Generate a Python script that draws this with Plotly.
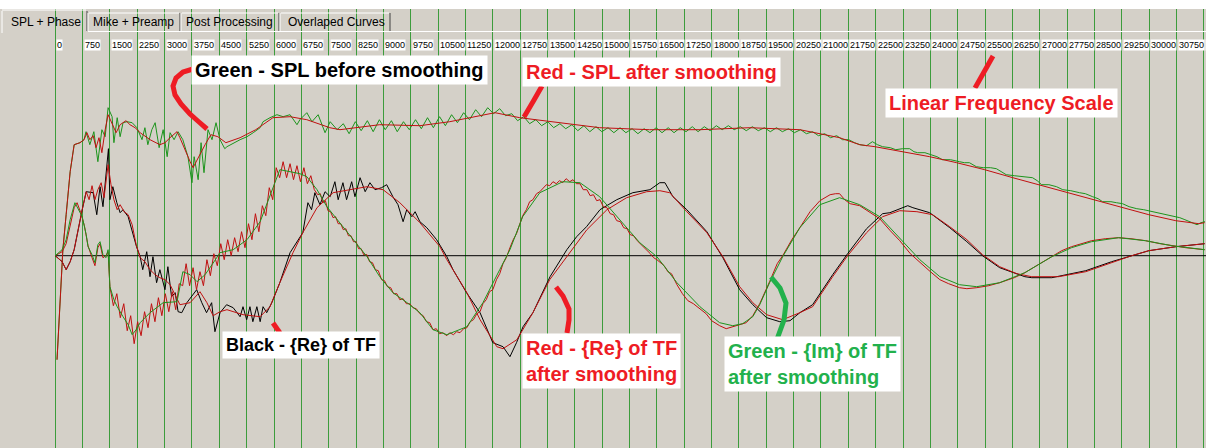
import plotly.graph_objects as go

W, H = 1206, 448
BG = "#d4d0c8"

# Frequency axis: a gridline and a label every 750 Hz
tick_hz = list(range(0, 31501, 750))
tick_labels = [str(v) for v in tick_hz]

# Measured curves as (frequency in Hz, level) pairs
spl_raw = [
    (50, -104), (130, -44), (210, 6), (300, 41), (410, 84), (520, 111), (680, 113), (790, 116),
    (845, 124), (950, 111), (1060, 124), (1170, 94), (1280, 126), (1370, 119), (1450, 148),
    (1560, 139), (1610, 113), (1700, 138), (1780, 119), (1860, 133), (1970, 134), (2110, 133),
    (2240, 128), (2380, 116), (2460, 128), (2540, 111), (2650, 126), (2740, 133), (2850, 108),
    (2960, 126), (3070, 99), (3150, 123), (3260, 116), (3370, 124), (3500, 116), (3640, 99),
    (3750, 73), (3810, 99), (3920, 76), (4000, 113), (4080, 83), (4190, 126), (4300, 116),
    (4410, 133), (4520, 116), (4650, 107), (4710, 109), (5070, 116), (5260, 119), (5430, 123),
    (5620, 128), (5700, 134), (5890, 138), (6080, 141), (6250, 139), (6440, 141), (6630, 131),
    (6710, 136), (6900, 143), (7040, 134), (7210, 141), (7400, 123), (7540, 134), (7730, 126),
    (7900, 132), (8060, 122), (8230, 134), (8390, 125), (8560, 135), (8720, 124), (8890, 136),
    (9050, 126), (9220, 135), (9380, 124), (9550, 134), (9710, 126), (9880, 136), (10040, 127),
    (10210, 138), (10370, 128), (10540, 139), (10700, 130), (10870, 141), (11030, 133),
    (11200, 143), (11360, 136), (11530, 146), (11690, 139), (11860, 148), (12020, 142),
    (12190, 147), (12350, 140), (12520, 142), (12680, 135), (12850, 139), (13010, 132),
    (13180, 136), (13340, 130), (13510, 134), (13670, 128), (13840, 132), (14000, 127),
    (14170, 131), (14330, 125), (14500, 130), (14660, 124), (14830, 129), (14990, 124),
    (15160, 128), (15320, 123), (15490, 128), (15650, 123), (15820, 127), (15980, 122),
    (16150, 127), (16310, 123), (16480, 128), (16640, 123), (16810, 128), (16970, 123),
    (17140, 128), (17300, 124), (17470, 129), (17630, 124), (17800, 129), (17960, 125),
    (18130, 130), (18290, 126), (18460, 130), (18620, 126), (18790, 129), (18950, 125),
    (19120, 129), (19280, 125), (19450, 128), (19610, 124), (19780, 128), (19940, 124),
    (20110, 127), (20270, 123), (20440, 126), (20600, 122), (20770, 124), (20930, 120),
    (21100, 122), (21260, 118), (21430, 120), (21590, 116), (21760, 116), (21920, 113),
    (22070, 111), (22250, 110), (22410, 114), (22550, 111), (22690, 109), (22900, 108),
    (23050, 106), (23240, 107), (23430, 107), (23550, 104), (23650, 103), (23850, 103),
    (24030, 101), (24180, 99), (24330, 96), (24550, 96), (24800, 94), (24930, 93), (25070, 93),
    (25260, 89), (25450, 88), (25650, 88), (25810, 87), (25950, 84), (26080, 81), (26300, 80),
    (26520, 79), (26800, 78), (26930, 75), (27050, 71), (27250, 71), (27460, 69), (27630, 66),
    (27850, 65), (28090, 63), (28250, 62), (28450, 59), (28600, 57), (28720, 54), (28950, 54),
    (29100, 53), (29270, 52), (29450, 49), (29660, 47), (29850, 46), (30100, 44), (30300, 42),
    (30490, 41), (30650, 39), (30840, 38), (30980, 36), (31120, 34), (31310, 31), (31420, 33),
    (31530, 34),
]

spl_smooth = [
    (50, -104), (130, -44), (210, 6), (300, 41), (410, 84), (520, 111), (680, 113), (790, 116),
    (870, 123), (950, 116), (1040, 120), (1120, 108), (1200, 118), (1280, 103), (1370, 126),
    (1450, 141), (1560, 131), (1670, 123), (1780, 131), (1940, 135), (2050, 131), (2190, 128),
    (2330, 123), (2510, 118), (2600, 116), (2870, 111), (3010, 113), (3150, 118), (3340, 124),
    (3420, 118), (3560, 105), (3700, 94), (3780, 88), (3890, 96), (3970, 101), (4110, 111),
    (4270, 121), (4460, 119), (4680, 113), (5070, 118), (5500, 126), (5970, 138), (6440, 139),
    (6900, 136), (7530, 128), (7810, 126), (8900, 131), (10000, 130), (10820, 134), (11370, 138),
    (12060, 143), (12740, 138), (13560, 134), (14930, 128), (16300, 126), (17680, 126),
    (19050, 128), (20420, 126), (21510, 118), (22060, 111), (22480, 109), (23240, 104),
    (23980, 99), (24720, 93), (25490, 86), (26260, 78), (26970, 71), (27710, 64), (28480, 56),
    (29220, 49), (29990, 41), (30730, 35), (31360, 32), (31520, 33),
]

re_raw = [
    (0, 0), (190, -6), (300, -14), (410, -6), (520, 6), (630, 28), (740, 46), (850, 64),
    (1040, 63), (1140, 41), (1230, 69), (1310, 49), (1460, 107), (1500, 56), (1580, 69),
    (1690, 53), (1780, 43), (1860, 46), (2000, 39), (2230, 9), (2330, -1), (2400, -14),
    (2510, 4), (2600, -21), (2680, -1), (2780, -27), (2870, -14), (3010, -34), (3090, -11),
    (3190, -41), (3290, -37), (3370, -56), (3470, -57), (3610, -47), (3880, -34), (4020, -47),
    (4150, -57), (4290, -47), (4380, -76), (4520, -57), (4700, -49), (4880, -52), (5070, -61),
    (5150, -51), (5250, -64), (5340, -51), (5420, -66), (5530, -51), (5620, -66), (5700, -51),
    (5800, -57), (5940, -47), (6160, -27), (6440, 3), (6790, 23), (6930, 53), (7030, 46),
    (7120, 63), (7260, 51), (7400, 64), (7540, 59), (7670, 74), (7760, 56), (7890, 73),
    (7990, 56), (8130, 74), (8220, 59), (8360, 78), (8500, 64), (8630, 73), (8770, 66),
    (8950, 68), (9090, 71), (9260, 59), (9400, 51), (9540, 34), (9640, 46), (9780, 39),
    (9870, 44), (10000, 34), (10190, 28), (10460, 16), (10740, -1), (10910, -14), (11280, -37),
    (11650, -57), (12000, -87), (12280, -91), (12470, -101), (12650, -87), (12830, -71),
    (13100, -57), (13570, -21), (14030, 6), (14300, 19), (14570, 29), (14940, 46), (15400, 56),
    (15840, 63), (16310, 66), (16580, 73), (16720, 73), (16940, 59), (17320, 46), (17870, 24),
    (18310, -2), (18770, -34), (19130, -49), (19510, -62), (19870, -66), (20150, -65),
    (20420, -57), (20770, -49), (21320, -19), (21730, 2), (22250, 27), (22690, 42), (22890, 43),
    (23160, 47), (23380, 50), (23520, 48), (23980, 43), (24530, 28), (25000, 14), (25430, 0),
    (25900, -12), (26590, -21), (26780, -22), (27330, -22), (27600, -20), (28260, -15),
    (28970, -6), (29520, 0), (29990, 5), (30730, 9), (31520, 12),
]

re_smooth = [
    (0, 0), (190, -6), (300, -14), (410, -6), (520, 6), (630, 28), (740, 46), (850, 64),
    (930, 56), (1010, 70), (1090, 56), (1170, 66), (1260, 73), (1340, 58), (1450, 91),
    (1530, 71), (1610, 56), (1700, 46), (1780, 51), (1890, 44), (2000, 41), (2110, 31),
    (2220, 11), (2330, -2), (2460, -6), (2600, -14), (2740, -19), (2870, -22), (3010, -24),
    (3150, -29), (3290, -39), (3420, -49), (3700, -47), (3970, -36), (4160, -47), (4330, -60),
    (4520, -56), (4710, -54), (5150, -59), (5620, -61), (5890, -51), (6160, -27), (6520, 3),
    (6790, 23), (7180, 48), (7620, 63), (8080, 66), (8550, 69), (8990, 66), (9450, 53),
    (9920, 36), (10000, 33), (10550, 9), (10740, -4), (11290, -37), (11650, -64),
    (12110, -91), (12280, -93), (12660, -84), (13100, -57), (13560, -24), (14110, 3),
    (14580, 26), (15130, 46), (15670, 58), (16220, 64), (16580, 65), (16850, 63), (17320, 44),
    (17870, 23), (18310, -1), (18770, -31), (19130, -47), (19510, -59), (19950, -64),
    (20420, -57), (20770, -51), (21320, -21), (21730, 0), (22250, 23), (22690, 39),
    (23160, 45), (23630, 44), (24060, 41), (24530, 29), (25000, 16), (25430, 1), (25900, -11),
    (26370, -18), (26780, -21), (27520, -21), (28260, -16), (28970, -7), (29520, 0),
    (29990, 5), (30730, 9), (31520, 12),
]

im_raw = [
    (0, 0), (190, 4), (300, 12), (410, 30), (520, 48), (600, 53), (700, 43), (800, 30),
    (900, 10), (1010, -2), (1090, -10), (1170, 8), (1230, 12), (1310, -2), (1390, 0),
    (1450, 4), (1500, -31), (1595, -50), (1690, -38), (1785, -62), (1880, -48), (1975, -75),
    (2070, -60), (2165, -88), (2260, -66), (2355, -80), (2450, -56), (2545, -72), (2640, -48),
    (2735, -66), (2830, -42), (2925, -60), (3020, -38), (3115, -56), (3210, -36), (3305, -54),
    (3400, -28), (3495, -30), (3590, -8), (3685, -30), (3780, -12), (3875, -34), (3970, -16),
    (4065, -30), (4160, -4), (4255, -20), (4350, 2), (4445, -10), (4540, 12), (4635, -4),
    (4730, 16), (4825, 0), (4920, 18), (5015, 4), (5110, 24), (5205, 8), (5300, 32),
    (5395, 16), (5490, 42), (5585, 24), (5680, 50), (5775, 40), (5870, 68), (5965, 56),
    (6060, 88), (6155, 78), (6250, 94), (6345, 78), (6440, 92), (6535, 76), (6630, 90),
    (6725, 74), (6820, 88), (6915, 72), (7010, 80), (7105, 66), (7200, 61), (7270, 62),
    (7340, 53), (7410, 55), (7480, 45), (7550, 44), (7620, 38), (7690, 39), (7760, 32),
    (7830, 32), (7900, 26), (7970, 27), (8040, 20), (8110, 20), (8180, 14), (8250, 14),
    (8320, 7), (8390, 7), (8460, 1), (8550, 1), (8620, -6), (8700, -7), (8780, -14),
    (8860, -15), (8950, -24), (9030, -25), (9110, -31), (9200, -32), (9280, -38), (9370, -38),
    (9450, -44), (9540, -43), (9630, -48), (9720, -48), (9810, -52), (9900, -53), (10000, -58),
    (10090, -60), (10180, -66), (10270, -67), (10360, -74), (10450, -73), (10540, -78),
    (10630, -77), (10740, -80), (10820, -77), (10920, -79), (11010, -76), (11100, -77),
    (11200, -73), (11290, -72), (11380, -66), (11470, -64), (11560, -58), (11650, -56),
    (11730, -48), (11820, -44), (11910, -36), (12000, -34), (12100, -24), (12190, -18),
    (12280, -8), (12370, -2), (12470, 8), (12560, 16), (12650, 22), (12740, 32), (12820, 40),
    (12920, 46), (13010, 54), (13100, 56), (13200, 62), (13290, 64), (13380, 68), (13470, 71),
    (13560, 70), (13650, 74), (13740, 72), (13830, 75), (13920, 73), (14010, 77), (14110, 74),
    (14200, 76), (14290, 72), (14390, 72), (14480, 66), (14580, 66), (14670, 60), (14760, 61),
    (14850, 55), (14940, 56), (15030, 49), (15130, 48), (15220, 42), (15310, 41), (15400, 35),
    (15500, 34), (15590, 28), (15680, 27), (15770, 21), (15860, 20), (15960, 15), (16050, 12),
    (16140, 8), (16230, 5), (16320, 2), (16410, -2), (16500, -4), (16700, -10), (16800, -16),
    (16900, -18), (17050, -29), (17200, -38), (17350, -45), (17500, -48), (17680, -53),
    (17850, -58), (18000, -65), (18220, -70), (18400, -73), (18580, -71), (18750, -69),
    (18950, -67), (19130, -60), (19320, -48), (19590, -26), (19800, -8), (19950, 0),
    (20200, 16), (20420, 28), (20700, 44), (20970, 55), (21250, 61), (21400, 62), (21510, 62),
    (21650, 56), (21800, 52), (22060, 50), (22300, 44), (22610, 37), (22900, 25), (23160, 15),
    (23450, 2), (23710, -7), (24000, -16), (24260, -24), (24500, -28), (24800, -32),
    (25000, -33), (25270, -32), (25600, -30), (25900, -27), (26300, -22), (26590, -17),
    (27000, -8), (27330, -1), (27600, 5), (27870, 9), (28200, 13), (28420, 15), (28800, 17),
    (29160, 18), (29500, 17), (29900, 15), (30300, 12), (30620, 10), (31000, 8), (31520, 6),
]

im_smooth = [
    (0, 0), (190, 6), (300, 16), (410, 36), (540, 53), (650, 46), (740, 39), (850, 21),
    (900, 9), (1010, 1), (1090, -7), (1170, 11), (1230, 14), (1310, 1), (1390, -2),
    (1450, 6), (1500, -31), (1610, -44), (1700, -51), (1860, -61), (2000, -69), (2110, -79),
    (2220, -74), (2330, -67), (2600, -57), (2960, -47), (3340, -46), (3500, -16), (3700, -19),
    (3890, -26), (4110, -19), (4300, -9), (4520, 3), (4880, 6), (5260, 16), (5620, 34),
    (5890, 59), (6160, 86), (6440, 84), (6710, 82), (6900, 79), (7180, 66), (7450, 49),
    (7810, 33), (8170, 16), (8550, -1), (8900, -21), (9260, -37), (9650, -47), (10000, -57),
    (10360, -74), (10740, -79), (11290, -71), (11730, -47), (12190, -14), (12470, 6),
    (12820, 39), (13290, 63), (13920, 74), (14390, 73), (14930, 59), (15400, 39), (16030, 13),
    (16500, -1), (17050, -27), (17680, -51), (18220, -67), (18580, -70), (18850, -68),
    (19130, -61), (19320, -49), (19590, -27), (19950, -1), (20420, 28), (20970, 51),
    (21510, 58), (22060, 51), (22610, 39), (23160, 18), (23710, -4), (24260, -21),
    (24800, -29), (25270, -31), (25900, -27), (26590, -17), (27330, -1), (27870, 8),
    (28420, 14), (29160, 18), (29900, 15), (30620, 10), (31520, 6),
]

# name, data, colour (drawing order: later traces sit on top)
series = [
    ("SPL before smoothing", spl_raw, "#1c941c"),
    ("SPL after smoothing", spl_smooth, "#c01010"),
    ("Re of TF", re_raw, "#000000"),
    ("Im of TF", im_raw, "#c01010"),
    ("Re of TF after smoothing", re_smooth, "#c01010"),
    ("Im of TF after smoothing", im_smooth, "#1c941c"),
]

X_RANGE = [-1514, 31558]
Y_RANGE = [-192.3, 255.7]

fig = go.Figure()
for name, pts, color in series:
    fig.add_trace(go.Scatter(
        x=[p[0] for p in pts], y=[p[1] for p in pts], name=name, mode="lines",
        line=dict(color=color, width=1), hoverinfo="skip",
    ))


def px(x, y):
    """Screen pixel -> paper coordinates for the window decorations."""
    return x / W, 1 - y / H


shapes = []


def seg(x0, y0, x1, y1, color, width=1, layer="above"):
    a, b = px(x0, y0)
    c, d = px(x1, y1)
    shapes.append(dict(type="line", xref="paper", yref="paper", x0=a, y0=b, x1=c, y1=d,
                       line=dict(color=color, width=width), layer=layer))


def stroke(points, color):
    path = ""
    for i, (x, y) in enumerate(points):
        a, b = px(x, y)
        path += ("M" if i == 0 else "L") + f"{a:.5f},{b:.5f} "
    shapes.append(dict(type="path", xref="paper", yref="paper", path=path,
                       line=dict(color=color, width=5), layer="above"))


# white strip above the tab control
a0, b0 = px(0, 0)
a1, b1 = px(W, 9)
shapes.append(dict(type="rect", xref="paper", yref="paper", x0=a0, y0=b0, x1=a1, y1=b1,
                   fillcolor="white", line=dict(width=0), layer="above"))

# tab outlines
seg(2, 11, 2, 33, "white")
seg(2, 10, 86, 10, "white")
seg(87, 11, 87, 31, "#404040")
for x0, x1 in [(88, 180), (181, 279), (280, 390)]:
    seg(x0 + 1, 13, x1 - 1, 13, "white")
    seg(x0, 13, x0, 31, "white")
    seg(x1, 13, x1, 31, "#404040")
seg(88, 31.5, W, 31.5, "white")

# zero reference of the transfer-function traces
shapes.append(dict(type="line", xref="x", yref="y", x0=0, x1=X_RANGE[1], y0=0, y1=0,
                   line=dict(color="black", width=1), layer="between"))

RED_INK = "#ee1c24"
GREEN_INK = "#22b14c"

# callout pointers
stroke([(193, 69), (183, 72), (176, 78), (173, 86), (175, 95), (181, 104), (190, 114),
        (199, 122), (207, 129)], RED_INK)
stroke([(542, 86), (534, 100), (524, 117)], RED_INK)
stroke([(993, 56), (975, 88)], RED_INK)
stroke([(273, 323), (280, 333)], RED_INK)
stroke([(556, 287), (563, 296), (569, 309), (569, 320), (567, 333)], RED_INK)
stroke([(771, 277), (780, 288), (786, 303), (784, 320), (776, 342)], GREEN_INK)

annotations = []

# tab captions
for text, x in [("SPL + Phase", 9), ("Mike + Preamp", 91), ("Post Processing", 184),
                ("Overlaped Curves", 286)]:
    a, b = px(x, 22)
    annotations.append(dict(xref="paper", yref="paper", x=a, y=b, text=text, showarrow=False,
                            xanchor="left", yanchor="middle",
                            font=dict(family="Liberation Sans, Arial, sans-serif", size=12,
                                      color="black")))

# frequency labels next to each gridline
_, ylab = px(0, 45)
for v, t in zip(tick_hz, tick_labels):
    annotations.append(dict(xref="x", yref="paper", x=v, y=ylab, text=t, showarrow=False,
                            xanchor="left", yanchor="middle", xshift=1, bgcolor="white",
                            borderpad=0,
                            font=dict(family="Liberation Sans, Arial, sans-serif",
                                      size=9, color="black")))

# callout boxes
for text, x, y, color, size in [
    ("Green - SPL before smoothing", 191, 55, "black", 20),
    ("Red - SPL after smoothing", 522, 57, RED_INK, 20),
    ("Linear Frequency Scale", 885, 88, RED_INK, 20),
    ("Black - {Re} of TF", 222, 331, "black", 18),
    ("Red - {Re} of TF<br>after smoothing", 522, 333, RED_INK, 20),
    ("Green - {Im} of TF<br>after smoothing", 724, 336, GREEN_INK, 20),
]:
    a, b = px(x, y)
    annotations.append(dict(xref="paper", yref="paper", x=a, y=b, text=f"<b>{text}</b>",
                            showarrow=False, xanchor="left", yanchor="top", align="left",
                            bgcolor="white", borderpad=3,
                            font=dict(family="Liberation Sans, Arial, sans-serif", size=size,
                                      color=color)))

fig.update_layout(
    width=W, height=H, margin=dict(l=0, r=0, t=0, b=0),
    paper_bgcolor=BG, plot_bgcolor=BG, showlegend=False,
    xaxis=dict(range=X_RANGE, tickmode="array", tickvals=tick_hz, showticklabels=False,
               showgrid=True, gridcolor="#3c9c3c", gridwidth=1, zeroline=False,
               showline=False, ticks=""),
    yaxis=dict(range=Y_RANGE, showgrid=False, zeroline=False, showticklabels=False,
               showline=False, ticks=""),
    shapes=shapes, annotations=annotations,
)

fig.write_html("out.html")
